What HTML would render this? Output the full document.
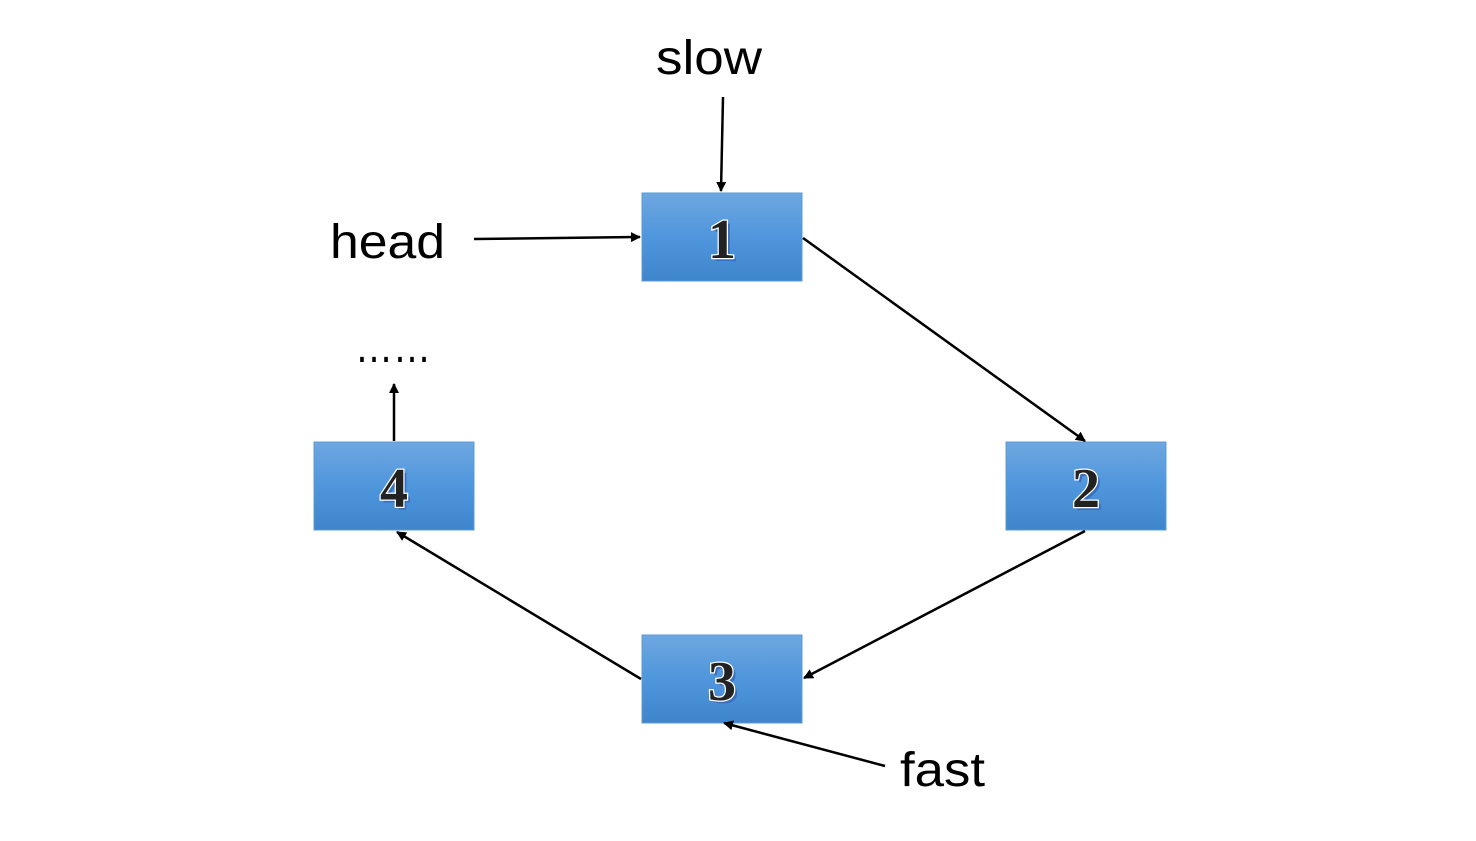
<!DOCTYPE html>
<html><head><meta charset="utf-8"><style>html,body{margin:0;padding:0;background:#fff}</style></head>
<body>
<svg width="1476" height="836" viewBox="0 0 1476 836" xmlns="http://www.w3.org/2000/svg">
<defs>
<linearGradient id="g" x1="0" y1="0" x2="0" y2="1">
<stop offset="0" stop-color="#6ea7e0"/><stop offset="0.5" stop-color="#4f96dc"/><stop offset="1" stop-color="#3f85cc"/>
</linearGradient>
<marker id="a" markerWidth="10" markerHeight="10" refX="9" refY="5" orient="auto" markerUnits="userSpaceOnUse">
<path d="M0,0 L10,5 L0,10 z" fill="#000"/></marker>
</defs>
<g fill="url(#g)" stroke="#5b9bd5" stroke-width="1">
<rect x="642" y="193" width="160" height="88"/>
<rect x="1006" y="442" width="160" height="88"/>
<rect x="642" y="635" width="160" height="88"/>
<rect x="314" y="442" width="160" height="88"/>
</g>
<g font-family="Liberation Serif, serif" font-weight="bold" font-size="56" text-anchor="middle">
<g fill="#3a6fc0" transform="translate(3,3)">
<text x="722" y="258">1</text><text x="1086" y="507">2</text><text x="722" y="700">3</text><text x="394" y="507">4</text>
</g>
<g fill="#222" stroke="#fff" stroke-width="2.5" paint-order="stroke">
<text x="722" y="258">1</text><text x="1086" y="507">2</text><text x="722" y="700">3</text><text x="394" y="507">4</text>
</g>
</g>
<g stroke="#000" stroke-width="2.5" fill="none" marker-end="url(#a)">
<line x1="723" y1="97" x2="721" y2="191"/>
<line x1="474" y1="239" x2="640" y2="237"/>
<line x1="803" y1="238" x2="1085" y2="441"/>
<line x1="1085" y1="531" x2="804" y2="678"/>
<line x1="641" y1="679" x2="397" y2="532"/>
<line x1="394" y1="441" x2="394" y2="384"/>
<line x1="885" y1="766" x2="724" y2="723"/>
</g>
<g font-family="Liberation Sans, sans-serif" font-size="48" fill="#000">
<text x="656" y="74" textLength="106" lengthAdjust="spacingAndGlyphs">slow</text>
<text x="330" y="258" textLength="115" lengthAdjust="spacingAndGlyphs">head</text>
<text x="900" y="786" textLength="85" lengthAdjust="spacingAndGlyphs">fast</text>
<text x="355" y="362" textLength="76" lengthAdjust="spacingAndGlyphs">……</text>
</g>
</svg>
</body></html>
